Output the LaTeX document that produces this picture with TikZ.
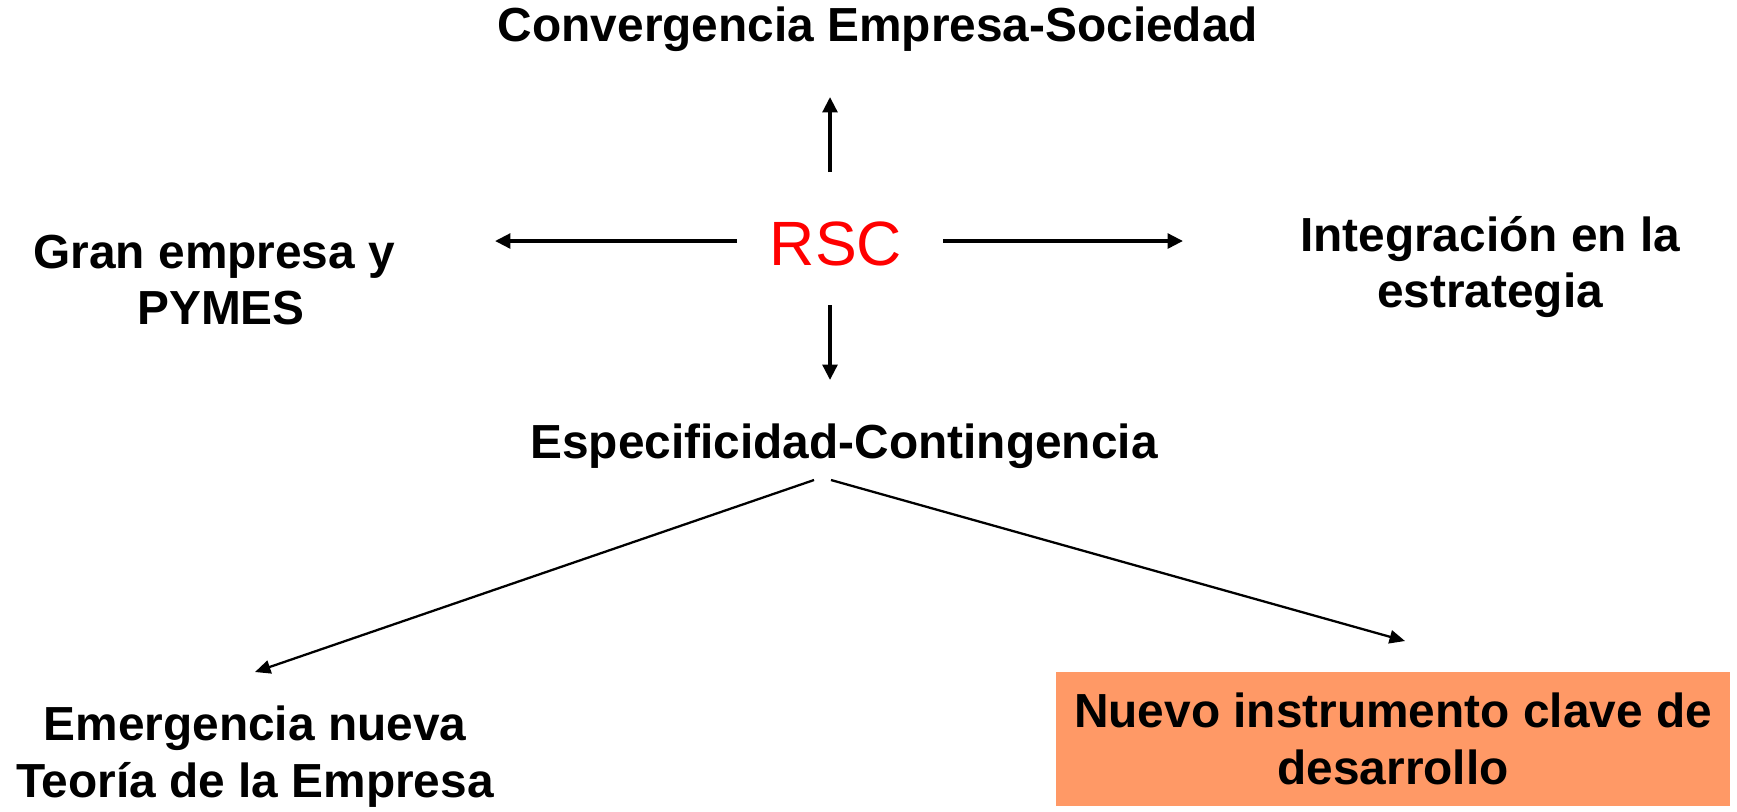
\documentclass[tikz,border=0pt]{standalone}
\usepackage{fontspec}
\setmainfont{Liberation Sans}
\usetikzlibrary{arrows.meta}
\definecolor{boxorange}{HTML}{FF9966}
\begin{document}
\begin{tikzpicture}[x=0.01cm,y=-0.01cm,
  lbl/.style={font=\fontsize{13.6pt}{16.1pt}\selectfont\bfseries, align=center, inner sep=0pt},
  thick arrow/.style={line width=1pt, -{Triangle[length=4.4pt,width=4.2pt]}},
  thin arrow/.style={line width=0.65pt, -{Triangle[length=4.4pt,width=3.8pt]}}]
\useasboundingbox (0,0) rectangle (1737,811);
\node[lbl] (conv) at (878,29) {Convergencia Empresa-Sociedad};
\node[font=\fontsize{17.8pt}{20pt}\selectfont, text=red, inner sep=0pt] (rsc) at (836,244) {RSC};
\node[lbl] (gran) at (221,280) {Gran empresa y\kern0.28em\\PYMES};
\node[lbl] (integ) at (1490,267) {Integración en la\\estrategia};
\node[lbl] (espec) at (844,446) {Especificidad-Contingencia};
\node[lbl, anchor=south] (emerg) at (255,808) {Emergencia nueva\\Teoría de la Empresa};
\node[lbl, fill=boxorange, minimum width=6.74cm, minimum height=1.34cm] (nuevo) at (1393,739) {Nuevo instrumento clave de\\desarrollo};
\coordinate (upS) at (830,172);
\coordinate (upE) at (830,97);
\coordinate (dnS) at (830,305);
\coordinate (dnE) at (830,380);
\coordinate (lS) at (737,241);
\coordinate (lE) at (495,241);
\coordinate (rS) at (943,241);
\coordinate (rE) at (1183,241);
\coordinate (dlS) at (814,480);
\coordinate (dlE) at (255,672);
\coordinate (drS) at (831,480);
\coordinate (drE) at (1405,641);
\draw[thick arrow] (upS) -- (upE);
\draw[thick arrow] (dnS) -- (dnE);
\draw[thick arrow] (lS) -- (lE);
\draw[thick arrow] (rS) -- (rE);
\draw[thin arrow] (dlS) -- (dlE);
\draw[thin arrow] (drS) -- (drE);
\end{tikzpicture}
\end{document}
